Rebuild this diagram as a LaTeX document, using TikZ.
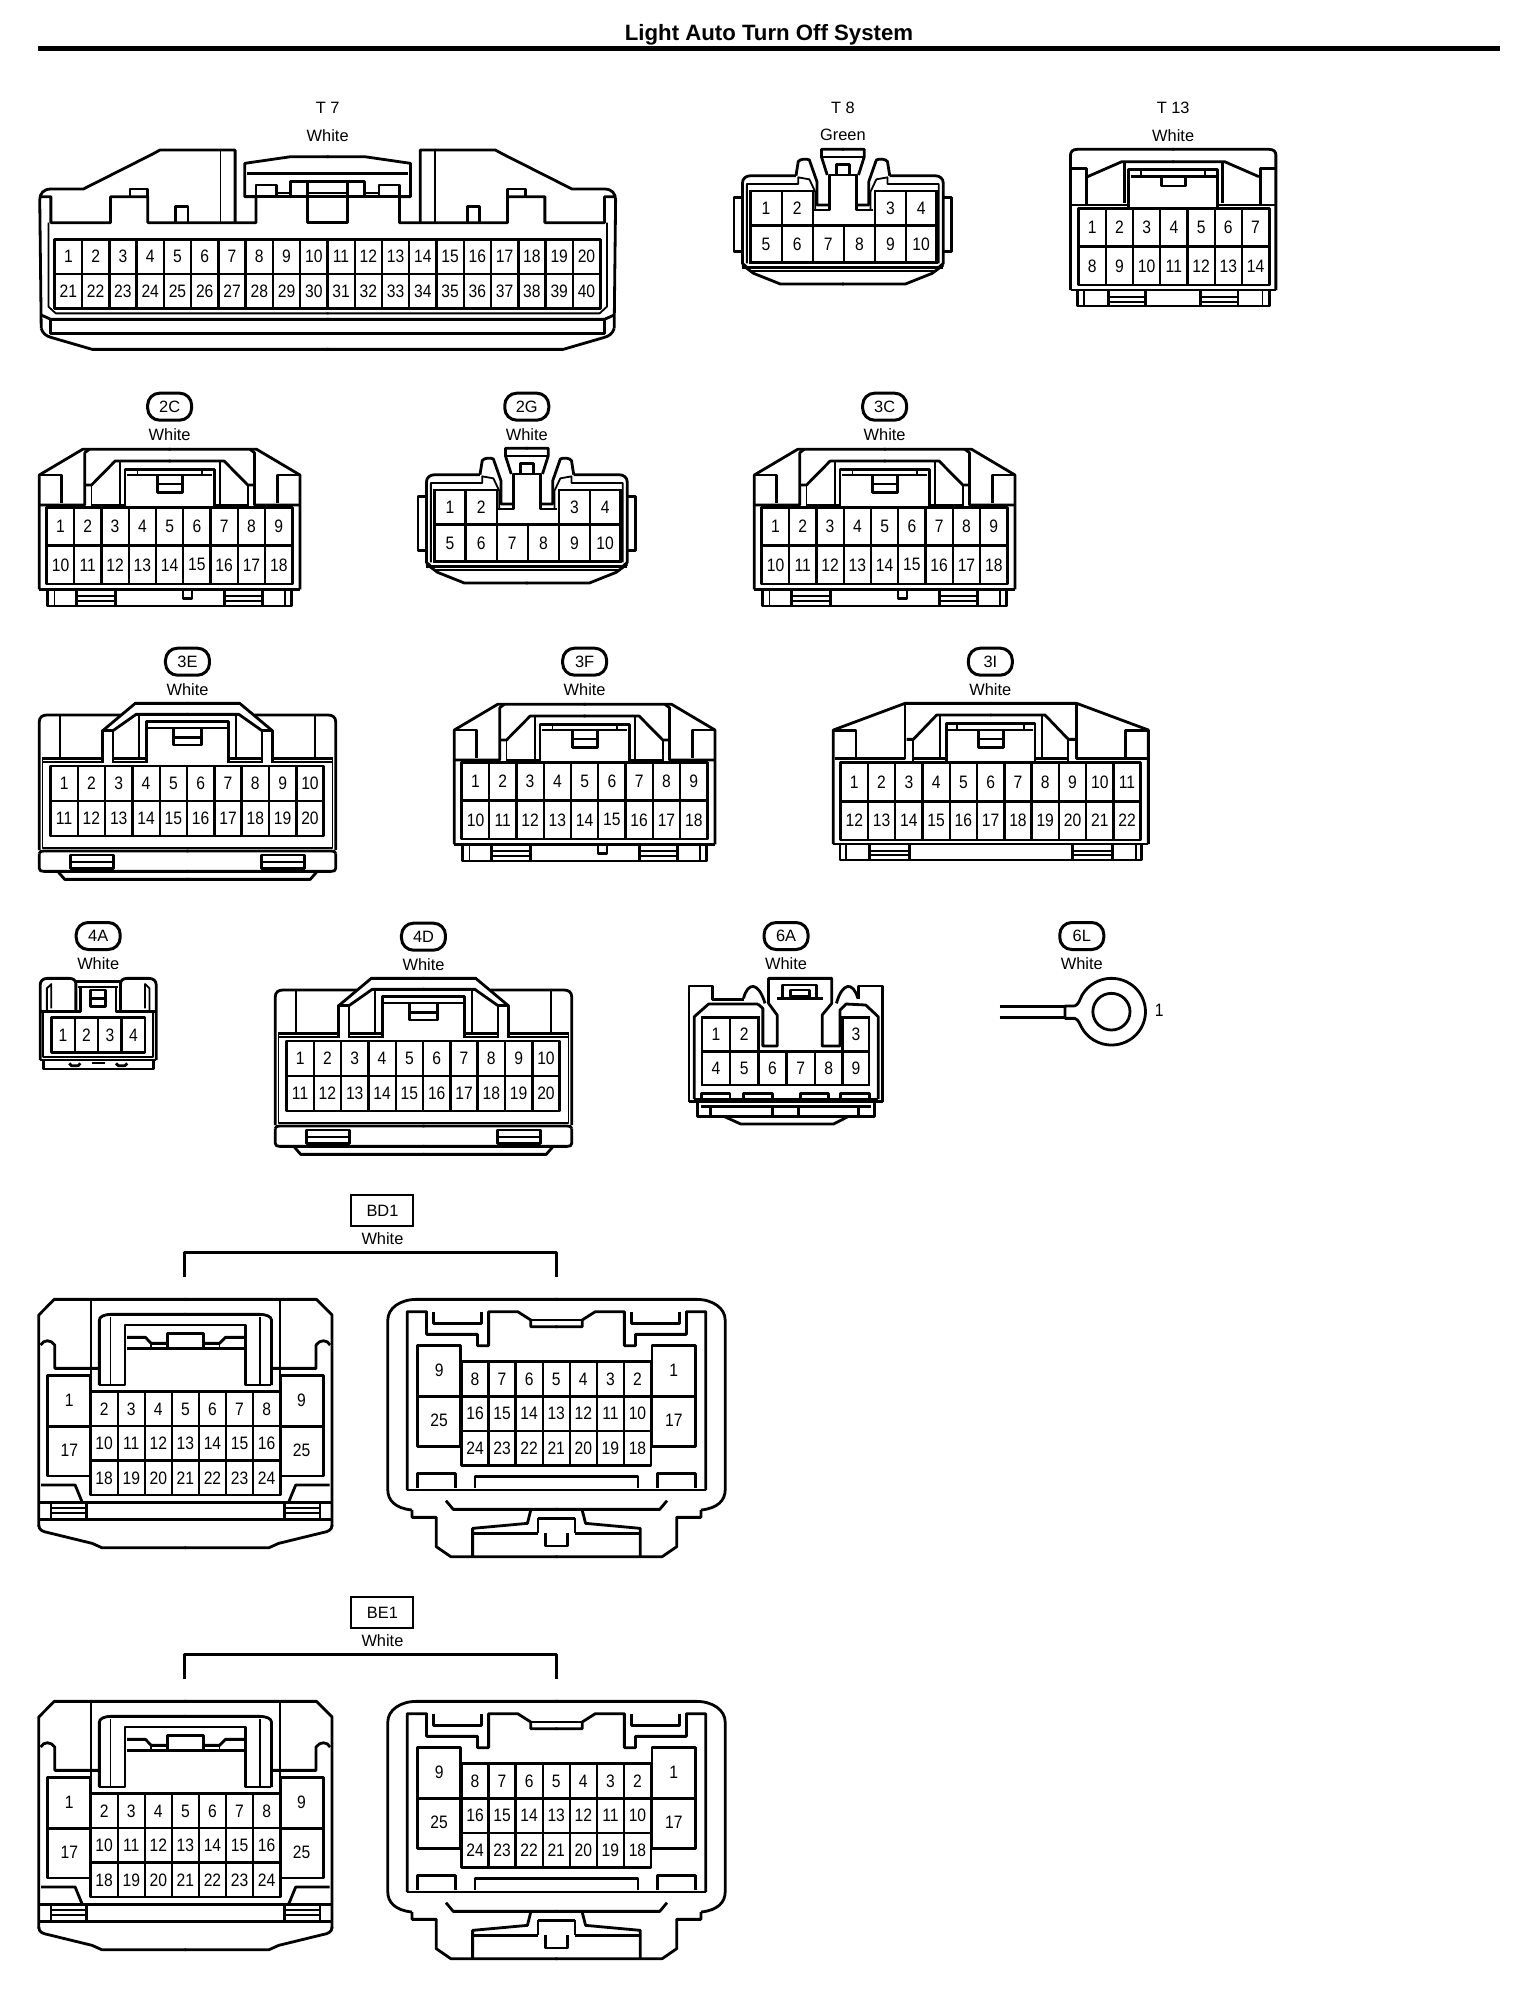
\documentclass[tikz,border=0pt]{standalone}
\usepackage{fontspec}
\setmainfont{Liberation Sans}
\newfontfamily\pinfont[FakeStretch=0.87]{Liberation Sans}
\newcount\nid
\tikzset{
  heavy/.style={line width=1.4pt,line join=round},
  gridline/.style={line width=1.2pt,line join=miter},
  lite/.style={line width=0.9pt,line join=round},
  pinlabel/.style={inner sep=0pt,font=\pinfont\fontsize{9pt}{10pt}\selectfont},
  colourlabel/.style={inner sep=0pt,font=\fontsize{8.2pt}{9pt}\selectfont},
  titlelabel/.style={inner sep=0pt,font=\fontsize{11.1pt}{12pt}\selectfont\bfseries},
  ovaltag/.style={draw,line width=1.5pt,rounded corners=6pt,minimum width=22pt,minimum height=13.5pt,inner sep=0pt,font=\fontsize{8.2pt}{9pt}\selectfont},
  boxtag/.style={draw,line width=1pt,minimum width=31pt,minimum height=15.5pt,inner sep=0pt,font=\fontsize{8.2pt}{9pt}\selectfont},
  crop/.style n args={4}{shift={(#1*0.5pt,#2*-0.5pt)},x=#3,y=-#4}
}
% one numbered label
\newcommand\pinnum[3]{\global\advance\nid by 1 \node[pinlabel] (pin\the\nid) at (#1,#2) {#3};}
% one boxed cell
\newcommand\pincell[5]{\draw[gridline] (#1,#2) rectangle (#3,#4);
  \pgfmathsetmacro\gpx{(#1+#3)/2}\pgfmathsetmacro\gpy{(#2+#4)/2}
  \pinnum{\gpx}{\gpy}{#5}}
% x0 y0 x1 y1 cols rows start rowstep colstep
\newcommand\pingrid[9]{%
  \draw[heavy] (#1,#2) rectangle (#3,#4);
  \pgfmathsetmacro\gdx{(#3-#1)/#5}\pgfmathsetmacro\gdy{(#4-#2)/#6}
  \foreach \c in {1,...,#5}{\ifnum\c>1
     \pgfmathsetmacro\gpx{#1+(\c-1)*\gdx}\draw[gridline] (\gpx,#2) -- (\gpx,#4);\fi}
  \foreach \r in {1,...,#6}{\ifnum\r>1
     \pgfmathsetmacro\gpy{#2+(\r-1)*\gdy}\draw[gridline] (#1,\gpy) -- (#3,\gpy);\fi}
  \foreach \r in {1,...,#6}{\foreach \c in {1,...,#5}{
     \pgfmathsetmacro\gpx{#1+(\c-.5)*\gdx}\pgfmathsetmacro\gpy{#2+(\r-.5)*\gdy}
     \pgfmathtruncatemacro\gnum{#7+(\r-1)*#8+(\c-1)*#9}
     \pinnum{\gpx}{\gpy}{\gnum}}}}
\newcommand\tagoval[4]{\global\advance\nid by 1
  \node[ovaltag] (tag\the\nid) at (#1,#3) {#4};
  \node[colourlabel] (col\the\nid) at (#1,#2) {White};}
% --------- T7
\newcommand\halfTseven{%
  \draw[heavy] (85,985) -- (82,600) .. controls (82,580) and (90,567) .. (105,567) -- (172,567) -- (315,462) -- (330,450) -- (485,450) -- (485,668);
  \draw[lite] (455,450) -- (455,665);
  \draw[heavy] (85,590) -- (105,590) -- (105,668) -- (228,668) -- (228,590) -- (305,590) -- (305,668) -- (528,668) -- (528,590) -- (505,590) -- (505,490) -- (600,470) -- (678,470);
  \draw[heavy] (268,590) -- (268,567) -- (305,567) -- (305,590);
  \draw[heavy] (362,665) -- (362,620) -- (388,620) -- (388,665);
  \draw[heavy] (510,520) -- (678,520);
  \draw[heavy] (505,590) -- (678,590);
  \draw[heavy] (528,590) -- (528,555) -- (570,555) -- (570,590);
  \draw[lite] (570,578) -- (600,578);
  \draw[heavy] (600,590) -- (600,545) -- (678,545);
  \draw[heavy] (635,545) -- (635,668) -- (678,668);
  \draw[lite] (635,578) -- (678,578);
  \draw[lite] (100,668) -- (100,920) -- (115,940) -- (678,940);
  \draw[heavy] (85,945) -- (105,958) -- (678,958);
  \draw[heavy] (105,958) -- (105,1000) -- (678,1000);
  \draw[heavy] (85,985) .. controls (88,1000) and (95,1008) .. (105,1012) -- (190,1048) -- (678,1048);
}
% --------- T8 / 2G half
\newcommand\halfTeight{%
  \draw[heavy] (95,412) -- (76,412) -- (76,575) -- (95,575);
  \draw[heavy] (105,622) -- (95,610) -- (95,370) .. controls (95,355) and (103,347) .. (115,347) -- (215,347);
  \draw[lite] (105,610) -- (105,372) -- (220,372) -- (220,352) -- (245,358) -- (258,395) -- (258,450);
  \draw[heavy] (215,347) -- (220,305) .. controls (222,297) and (240,295) .. (245,300) -- (262,365) -- (262,435) -- (290,435);
  \draw[heavy] (253,450) -- (290,450) -- (290,345) -- (305,345) -- (305,313) -- (322,313);
  \draw[heavy] (285,345) -- (272,290) -- (272,268) -- (322,268);
  \draw[lite] (275,290) -- (322,290);
  \draw[heavy] (290,345) -- (322,345);
  \draw[heavy] (95,622) -- (322,622);
  \draw[lite] (110,634) -- (322,634);
  \draw[heavy] (95,615) -- (120,640) -- (180,672) -- (322,672);
}
\newcommand\bodyTeight{%
  \begin{scope}\halfTeight\end{scope}
  \begin{scope}[shift={(640,0)},xscale=-1]\halfTeight\end{scope}
  \pincell{113}{393}{183}{497}{1}\pincell{183}{393}{253}{497}{2}
  \pincell{392}{393}{461}{497}{3}\pincell{461}{393}{530}{497}{4}
  \pincell{113}{497}{183}{608}{5}\pincell{183}{497}{253}{608}{6}
  \pincell{253}{497}{322}{608}{7}\pincell{322}{497}{392}{608}{8}
  \pincell{392}{497}{461}{608}{9}\pincell{461}{497}{530}{608}{10}
}
% --------- T13
\newcommand\halfTthirteen{%
  \draw[heavy] (830,690) -- (830,285) .. controls (830,275) and (835,268) .. (845,268) -- (1062,268);
  \draw[heavy] (830,325) -- (865,325) -- (865,435);
  \draw[heavy] (868,350) -- (945,305) -- (1062,305);
  \draw[heavy] (950,305) -- (950,430);
  \draw[heavy] (830,435) -- (960,435);
  \draw[heavy] (960,440) -- (960,328) -- (1062,328);
  \draw[heavy] (965,350) -- (1062,350);
  \draw[lite] (988,330) -- (988,350);
  \draw[heavy] (1033,350) -- (1033,378) -- (1062,378);
  \draw[heavy] (830,690) -- (1062,690);
  \draw[heavy] (845,690) -- (845,738) -- (1062,738);
  \draw[lite] (860,690) -- (860,738);
  \draw[heavy] (915,690) -- (915,738);
  \draw[heavy] (998,690) -- (998,738);
  \draw[lite] (915,710) -- (998,710);
  \draw[lite] (915,725) -- (998,725);
}
% --------- 2C / 3C / 3F
\newcommand\halfCtype{%
  \draw[heavy] (88,628) -- (88,285) -- (185,208) -- (382,208);
  \draw[heavy] (88,285) -- (138,285) -- (138,370);
  \draw[heavy] (90,375) -- (190,375) -- (190,218) -- (200,208);
  \draw[heavy] (190,315) -- (205,315) -- (258,243) -- (382,243);
  \draw[lite] (205,315) -- (205,380);
  \draw[lite] (268,243) -- (268,372);
  \draw[heavy] (205,375) -- (282,375);
  \draw[heavy] (280,378) -- (280,268) -- (382,268);
  \draw[lite] (285,285) -- (382,285);
  \draw[lite] (308,270) -- (308,285);
  \draw[heavy] (352,285) -- (352,338) -- (382,338);
  \draw[heavy] (352,312) -- (382,312);
  \draw[heavy] (88,628) -- (382,628);
  \draw[heavy] (107,628) -- (107,678) -- (382,678);
  \draw[lite] (122,628) -- (122,678);
  \draw[heavy] (172,632) -- (172,678);
  \draw[heavy] (258,632) -- (258,678);
  \draw[lite] (172,648) -- (258,648);
  \draw[lite] (172,662) -- (258,662);
}
\newcommand\shapeCtype[1]{%
  \tagoval{380}{163}{80}{#1}
  \halfCtype
  \begin{scope}[shift={(760,0)},xscale=-1]\halfCtype\end{scope}
  \pingrid{105}{382}{655}{612}{9}{2}{1}{9}{1}
  \draw[heavy] (410,630) -- (410,655) -- (430,655) -- (430,630);
}
% --------- 3E / 4D
\newcommand\halfEtype{%
  \draw[heavy] (88,1410) -- (88,1025) .. controls (88,1012) and (95,1005) .. (105,1005) -- (270,1005);
  \draw[heavy] (230,1052) -- (303,970) -- (422,970);
  \draw[lite] (135,1005) -- (135,1135);
  \draw[heavy] (95,1135) -- (230,1135);
  \draw[heavy] (230,1150) -- (230,1052) -- (253,1052) -- (253,1150);
  \draw[heavy] (253,1052) -- (305,1003) -- (422,1003);
  \draw[lite] (312,1003) -- (312,1130);
  \draw[heavy] (253,1135) -- (328,1135);
  \draw[heavy] (328,1150) -- (328,1025) -- (422,1025);
  \draw[lite] (332,1045) -- (422,1045);
  \draw[heavy] (388,1048) -- (388,1095) -- (422,1095);
  \draw[heavy] (388,1072) -- (422,1072);
  \draw[lite] (95,1140) -- (95,1405) -- (422,1405);
  \draw[lite] (95,1145) -- (230,1145);
  \draw[lite] (253,1145) -- (328,1145);
  \draw[heavy] (88,1420) .. controls (88,1415) and (92,1413) .. (98,1413) -- (422,1413);
  \draw[heavy] (88,1420) -- (88,1465) .. controls (88,1472) and (92,1474) .. (98,1474) -- (422,1474);
  \draw[heavy] (130,1475) -- (145,1498) -- (422,1498);
  \draw[heavy] (158,1425) rectangle (255,1465);
  \draw[lite] (160,1445) -- (255,1445);
}
\newcommand\shapeEtype[1]{%
  \tagoval{420}{928}{845}{#1}
  \halfEtype
  \begin{scope}[shift={(840,0)},xscale=-1]\halfEtype\end{scope}
  \pingrid{113}{1158}{725}{1368}{10}{2}{1}{10}{1}
}
% --------- BD1 / BE1
\newcommand\halfBleft{%
  \draw[heavy] (80,1040) -- (80,405) -- (112,358) -- (384,358);
  \draw[lite] (187,362) -- (187,585);
  \draw[heavy] (205,615) -- (205,420) .. controls (205,410) and (215,403) .. (230,403) -- (384,403);
  \draw[lite] (228,410) -- (228,615);
  \draw[heavy] (205,615) -- (258,615) -- (258,435) -- (384,435);
  \draw[heavy] (262,472) -- (300,472) -- (312,490) -- (345,490);
  \draw[heavy] (262,505) -- (384,505);
  \draw[lite] (312,490) -- (312,505);
  \draw[heavy] (345,505) -- (345,460) -- (384,460);
  \draw[heavy] (84,495) .. controls (90,478) and (105,478) .. (113,495) -- (113,565) -- (205,565);
  \draw[heavy] (98,587) -- (187,587) -- (187,888) -- (98,888) -- cycle;
  \draw[gridline] (98,740) -- (187,740);
  \draw[heavy] (85,915) -- (155,915) -- (170,968);
  \draw[heavy] (80,968) -- (384,968);
  \draw[heavy] (80,1018) -- (384,1018);
  \draw[lite] (105,968) -- (105,1018);
  \draw[heavy] (178,968) -- (178,1018);
  \draw[lite] (105,985) -- (178,985);
  \draw[lite] (105,1000) -- (178,1000);
  \draw[heavy] (80,1035) .. controls (80,1050) and (88,1055) .. (100,1058) -- (190,1090) -- (210,1103) -- (384,1103);
}
\newcommand\halfBright{%
  \draw[heavy] (850,990) .. controls (815,985) and (800,960) .. (800,930) -- (800,420) .. controls (800,385) and (825,358) .. (860,358) -- (1150,358);
  \draw[heavy] (850,990) -- (850,1012) -- (900,1012) -- (900,1100) -- (930,1130) -- (1150,1130);
  \draw[heavy] (840,930) -- (840,395) -- (880,395) -- (880,463) -- (985,463) -- (985,497) -- (1008,497) -- (1008,395) -- (1068,395) -- (1095,420) -- (1095,440) -- (1150,440);
  \draw[heavy] (1095,420) -- (1150,420);
  \draw[heavy] (895,395) -- (895,430) -- (993,430) -- (993,395);
  \draw[heavy] (840,930) -- (1150,930);
  \draw[heavy] (862,925) -- (862,880) -- (940,880) -- (940,925);
  \draw[heavy] (980,925) -- (980,890) -- (1150,890);
  \draw[heavy] (920,962) -- (935,988) -- (1150,988);
  \draw[heavy] (1095,990) -- (1088,1030) -- (975,1045) -- (975,1128);
  \draw[heavy] (975,1060) -- (1110,1060);
  \draw[heavy] (1110,1015) -- (1150,1015);
  \draw[heavy] (1110,1015) -- (1110,1060);
  \draw[heavy] (1125,1060) -- (1125,1098) -- (1150,1098);
}
\newcommand\shapeBtype[1]{%
  \global\advance\nid by 1
  \node[boxtag] (tag\the\nid) at (789,92) {#1};
  \node[colourlabel] (col\the\nid) at (789,175) {White};
  \coordinate (brl\the\nid) at (381,292);
  \coordinate (brr\the\nid) at (1148,292);
  \draw[heavy] (brl\the\nid) -- (381,217) -- (1148,217) -- (brr\the\nid);
  \halfBleft
  \begin{scope}[shift={(765,0)},xscale=-1]\halfBleft\end{scope}
  \pingrid{187}{635}{578}{945}{7}{3}{2}{8}{1}
  \pinnum{143}{662}{1}\pinnum{143}{812}{17}\pinnum{622}{662}{9}\pinnum{622}{812}{25}
  \halfBright
  \begin{scope}[shift={(2296,0)},xscale=-1]\halfBright\end{scope}
  \draw[heavy] (862,497) rectangle (950,800);
  \draw[gridline] (862,650) -- (950,650);
  \pinnum{906}{572}{9}\pinnum{906}{722}{25}
  \draw[heavy] (1345,497) rectangle (1435,800);
  \draw[gridline] (1345,650) -- (1435,650);
  \pinnum{1390}{572}{1}\pinnum{1390}{722}{17}
  \pingrid{952}{545}{1343}{857}{7}{3}{8}{8}{-1}
}
\begin{document}
\begin{tikzpicture}[x=0.5pt,y=-0.5pt]
\useasboundingbox (0,0) rectangle (1520,1998);
\fill[white] (0,0) rectangle (1520,1998);
% title
\node[titlelabel] (title) at (769,35) {Light Auto Turn Off System};
\coordinate (ruleL) at (38,48.7);
\coordinate (ruleR) at (1500,48.7);
\draw[line width=2.5pt] (ruleL) -- (ruleR);
% T7
\begin{scope}[crop={0}{0}{0.24237pt}{0.16667pt}]
  \node[colourlabel] (t7a) at (676,325) {T 7};
  \node[colourlabel] (t7b) at (676,407) {White};
  \halfTseven
  \begin{scope}[shift={(1352,0)},xscale=-1]\halfTseven\end{scope}
  \pingrid{113}{718}{1238}{925}{20}{2}{1}{20}{1}
\end{scope}
% T8
\begin{scope}[crop={700}{60}{0.22321pt}{0.16667pt}]
  \node[colourlabel] (t8a) at (320,145) {T 8};
  \node[colourlabel] (t8b) at (320,226) {Green};
  \bodyTeight
\end{scope}
% T13
\begin{scope}[crop={700}{60}{0.22321pt}{0.16667pt}]
  \node[colourlabel] (t13a) at (1060,145) {T 13};
  \node[colourlabel] (t13b) at (1060,226) {White};
  \halfTthirteen
  \begin{scope}[shift={(2120,0)},xscale=-1]\halfTthirteen\end{scope}
  \pingrid{848}{445}{1275}{675}{7}{2}{1}{7}{1}
\end{scope}
% 2C 3C 3F
\begin{scope}[crop={0}{380}{0.22321pt}{0.16667pt}]\shapeCtype{2C}\end{scope}
\begin{scope}[crop={715}{380}{0.22321pt}{0.16667pt}]\shapeCtype{3C}\end{scope}
\begin{scope}[crop={415}{635}{0.22321pt}{0.16667pt}]\shapeCtype{3F}\end{scope}
% 2G (T8 type)
\begin{scope}[crop={0}{380}{0.22321pt}{0.16667pt}]
  \node[ovaltag] (tag2g) at (1180,80) {2G};
  \node[colourlabel] (col2g) at (1180,163) {White};
\end{scope}
\begin{scope}[crop={384}{359}{0.22321pt}{0.16667pt}]\bodyTeight\end{scope}
% 3E 4D
\begin{scope}[crop={0}{380}{0.22321pt}{0.16667pt}]\shapeEtype{3E}\end{scope}
\begin{scope}[crop={236}{655}{0.22321pt}{0.16667pt}]\shapeEtype{4D}\end{scope}
% 3I
\newcommand\halfIthree{%
  \draw[heavy] (340,1392) -- (340,1050) -- (555,970) -- (814,970);
  \draw[heavy] (342,1052) -- (408,1052) -- (408,1132);
  \draw[heavy] (345,1135) -- (555,1135) -- (555,975);
  \draw[heavy] (560,1078) -- (580,1078) -- (650,1005) -- (814,1005);
  \draw[lite] (580,1078) -- (580,1146);
  \draw[lite] (660,1005) -- (660,1132);
  \draw[heavy] (580,1135) -- (682,1135);
  \draw[heavy] (680,1144) -- (680,1030) -- (814,1030);
  \draw[lite] (685,1050) -- (814,1050);
  \draw[lite] (712,1032) -- (712,1050);
  \draw[heavy] (775,1050) -- (775,1103) -- (814,1103);
  \draw[heavy] (775,1077) -- (814,1077);
  \draw[heavy] (340,1392) -- (814,1392);
  \draw[heavy] (360,1392) -- (360,1440) -- (814,1440);
  \draw[lite] (378,1392) -- (378,1440);
  \draw[heavy] (448,1395) -- (448,1440);
  \draw[heavy] (568,1395) -- (568,1440);
  \draw[lite] (448,1412) -- (568,1412);
  \draw[lite] (448,1426) -- (568,1426);
}
\begin{scope}[crop={720}{380}{0.16667pt}{0.16667pt}]
  \node[ovaltag] (tag3i) at (811,845) {3I};
  \node[colourlabel] (col3i) at (811,928) {White};
  \halfIthree
  \begin{scope}[shift={(1625,0)},xscale=-1]\halfIthree\end{scope}
  \pingrid{362}{1148}{1262}{1380}{11}{2}{1}{11}{1}
\end{scope}
% 4A
\newcommand\halfAfour{%
  \draw[heavy] (90,480) -- (90,255) .. controls (90,242) and (97,235) .. (107,235) -- (155,235) .. controls (165,235) and (170,242) .. (170,252) -- (170,330);
  \draw[lite] (105,330) -- (105,265) -- (115,252) -- (115,325);
  \draw[heavy] (170,245) -- (222,245);
  \draw[lite] (175,262) -- (222,262);
  \draw[heavy] (180,262) -- (180,335) -- (92,335);
  \draw[lite] (97,340) -- (97,472) -- (222,472);
  \draw[heavy] (90,480) -- (222,480);
  \draw[heavy] (97,480) -- (97,507) -- (222,507);
  \draw[heavy] (155,490) -- (160,497) -- (175,497) -- (180,490);
  \draw[lite] (205,490) -- (222,490);
}
\begin{scope}[crop={0}{900}{0.22321pt}{0.16667pt}]
  \node[ovaltag] (tag4a) at (220,108) {4A};
  \node[colourlabel] (col4a) at (220,192) {White};
  \halfAfour
  \begin{scope}[shift={(440,0)},xscale=-1]\halfAfour\end{scope}
  \draw[heavy] (203,270) rectangle (237,320);
  \draw[heavy] (203,295) -- (237,295);
  \pingrid{115}{352}{325}{458}{4}{1}{1}{4}{1}
\end{scope}
% 6A
\begin{scope}[crop={680}{900}{0.17857pt}{0.16667pt}]
  \node[ovaltag] (tag6a) at (297,108) {6A};
  \node[colourlabel] (col6a) at (297,192) {White};
  \draw[heavy] (25,605) -- (25,258) -- (90,258) -- (90,298) -- (178,298);
  \draw[heavy] (178,295) .. controls (190,245) and (220,245) .. (238,310);
  \draw[heavy] (218,312) -- (232,325) -- (232,438) -- (272,438) -- (272,345) -- (248,310) -- (248,235) -- (425,235) -- (425,310) -- (398,345) -- (398,438) -- (448,438) -- (448,330) -- (465,312) -- (520,315) -- (555,350) -- (555,597);
  \draw[heavy] (438,310) .. controls (455,245) and (485,245) .. (498,295);
  \draw[heavy] (500,298) -- (500,258) -- (568,258) -- (568,605);
  \draw[heavy] (40,597) -- (40,350) -- (80,312) -- (218,312);
  \draw[heavy] (272,295) -- (400,295);
  \draw[heavy] (288,295) -- (288,255) -- (382,255) -- (382,295);
  \draw[heavy] (310,270) rectangle (362,290);
  \pincell{62}{352}{140}{455}{1}\pincell{140}{352}{220}{455}{2}
  \pincell{455}{352}{530}{455}{3}
  \pincell{62}{455}{140}{555}{4}\pincell{140}{455}{220}{555}{5}
  \pincell{220}{455}{298}{555}{6}\pincell{298}{455}{378}{555}{7}
  \pincell{378}{455}{455}{555}{8}\pincell{455}{455}{530}{555}{9}
  \draw[heavy] (25,605) -- (568,605);
  \draw[lite] (40,597) -- (555,597);
  \draw[heavy] (60,595) -- (60,580) -- (140,580) -- (140,595);
  \draw[heavy] (178,595) -- (178,580) -- (260,580) -- (260,595);
  \draw[heavy] (338,595) -- (338,580) -- (415,580) -- (415,595);
  \draw[heavy] (450,595) -- (450,580) -- (530,580) -- (530,595);
  \draw[heavy] (48,605) -- (48,650) -- (545,650) -- (545,605);
  \draw[heavy] (60,620) -- (535,620);
  \draw[heavy] (85,620) -- (85,650);
  \draw[heavy] (258,620) -- (258,650);
  \draw[heavy] (332,620) -- (332,650);
  \draw[heavy] (500,620) -- (500,650);
  \draw[heavy] (125,650) -- (170,672) -- (430,672) -- (470,650);
\end{scope}
% 6L
\begin{scope}[crop={680}{900}{0.17857pt}{0.16667pt}]
  \node[ovaltag] (tag6l) at (1125,108) {6L};
  \node[colourlabel] (col6l) at (1125,192) {White};
  \draw[heavy] (895,320) -- (1078,320);
  \draw[heavy] (895,352) -- (1078,352);
  \draw[heavy] (1105,318) -- (1078,318) -- (1078,355) -- (1105,355) .. controls (1118,360) and (1118,372) .. (1126,385)
     arc[start angle=150,end angle=-150,x radius=95,y radius=100] .. controls (1118,300) and (1118,312) .. (1105,318);
  \draw[heavy] (1208,335) ellipse [x radius=52,y radius=55];
  \pinnum{1342}{330}{1}
\end{scope}
% BD1 BE1
\begin{scope}[crop={0}{1180}{0.24237pt}{0.16667pt}]\shapeBtype{BD1}\end{scope}
\begin{scope}[crop={0}{1582}{0.24237pt}{0.16667pt}]\shapeBtype{BE1}\end{scope}
\end{tikzpicture}
\end{document}
